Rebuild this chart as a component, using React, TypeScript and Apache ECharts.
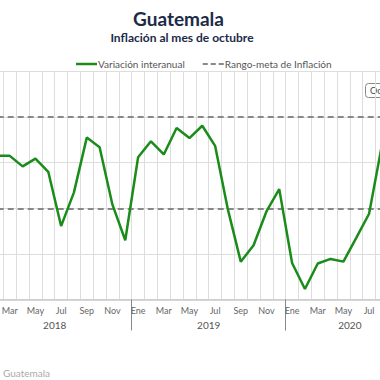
import React, { useEffect, useRef } from "react";
import * as echarts from "echarts";

const monthNames = ["Ene", "Feb", "Mar", "Abr", "May", "Jun", "Jul", "Ago", "Sep", "Oct", "Nov", "Dic"];
const years = ["2018", "2019", "2020"];
const categories: string[] = [];
for (let y = 0; y < 3; y++) {
  for (let m = 0; m < 12; m++) {
    if (y === 2 && m > 9) break;
    categories.push(monthNames[m] + " " + years[y]);
  }
}

const inflation2018 = [4.7, 4.15, 4.15, 3.92, 4.09, 3.8, 2.61, 3.35, 4.55, 4.34, 3.08, 2.3];
const inflation2019 = [4.12, 4.47, 4.18, 4.76, 4.54, 4.81, 4.37, 2.97, 1.83, 2.19, 2.93, 3.42];
const inflation2020 = [1.8, 1.23, 1.79, 1.89, 1.83, 2.35, 2.88, 4.39, 4.6, 5.1];
const inflation = [...inflation2018, ...inflation2019, ...inflation2020];

const targetUpper = 5;
const targetLower = 3;

// year label positions, in months from Jan 2018 (middle of each year's span)
const yearCenters: Record<number, string> = { 6: "2018", 18: "2019", 29: "2020" };

const FONT = "Lato, 'Noto Sans', sans-serif";
const SHIFT = 40; // the chart is wider than the visible window
const WIDTH = 470;

export default function App() {
  const ref = useRef<HTMLDivElement>(null);
  useEffect(() => {
    if (!ref.current) return;
    const chart = echarts.init(ref.current, undefined, { renderer: "svg" });
    chart.setOption({
      animation: false,
      backgroundColor: "#ffffff",
      textStyle: { fontFamily: FONT },
      legend: {
        left: 71 + SHIFT,
        top: 54,
        itemWidth: 21,
        itemHeight: 10,
        itemGap: 18,
        textStyle: { fontSize: 10, color: "#555", fontFamily: FONT, padding: [0, 0, 0, -4] },
        data: [
          { name: "Variación interanual", icon: "path://M0,0h21v2.5H0z" },
          {
            name: "Rango-meta de Inflación",
            icon: "path://M0,0h5v2H0z M8,0h5v2H8z M16,0h5v2h-5z",
          },
        ],
      },
      grid: { left: -22.3 + SHIFT, right: WIDTH - (414 + SHIFT), top: 71.5, bottom: 80.5, containLabel: false },
      xAxis: [
        {
          type: "category",
          data: categories,
          boundaryGap: true,
          axisLine: { show: true, lineStyle: { color: "#c8c8c8", width: 1.5 } },
          axisTick: {
            show: true,
            interval: (idx: number) => idx % 12 === 0,
            length: 31,
            lineStyle: { color: "#888", width: 1 },
          },
          axisLabel: {
            interval: (idx: number) => idx % 2 === 0,
            formatter: (v: string) => v.split(" ")[0],
            fontSize: 9,
            color: "#666",
            margin: 6,
            fontFamily: FONT,
          },
          splitLine: { show: true, interval: 0, lineStyle: { color: "#dddddd", width: 1 } },
        },
        {
          type: "value",
          min: 0,
          max: categories.length,
          interval: 1,
          position: "bottom",
          axisLine: { show: false },
          axisTick: { show: false },
          splitLine: { show: false },
          axisLabel: {
            formatter: (v: number) => yearCenters[v] || "",
            fontSize: 10,
            color: "#555",
            margin: 20,
            fontFamily: FONT,
          },
        },
      ],
      yAxis: {
        type: "value",
        min: 1,
        max: 6,
        interval: 1,
        axisLine: { show: false },
        axisTick: { show: false },
        axisLabel: { show: false },
        splitLine: { show: true, lineStyle: { color: "#dddddd", width: 1 } },
      },
      series: [
        {
          name: "Variación interanual",
          type: "line",
          xAxisIndex: 0,
          data: inflation,
          symbol: "none",
          color: "#1a8c1a",
          lineStyle: { color: "#1a8c1a", width: 2.5 },
          z: 5,
        },
        {
          name: "Rango-meta de Inflación",
          type: "line",
          xAxisIndex: 0,
          data: [],
          symbol: "none",
          color: "#888",
          lineStyle: { color: "#888", width: 2, type: [6, 4] },
          markLine: {
            silent: true,
            symbol: "none",
            label: { show: false },
            lineStyle: { color: "#888", width: 2, type: [6, 4] },
            data: [{ yAxis: targetUpper }, { yAxis: targetLower }],
          },
        },
      ],
      graphic: [
        {
          type: "text",
          x: 178.5 + SHIFT,
          y: 18,
          style: {
            text: "Guatemala",
            align: "center",
            verticalAlign: "middle",
            fontSize: 19,
            fontWeight: "bold",
            fill: "#1b2a47",
            fontFamily: FONT,
          },
        },
        {
          type: "text",
          x: 182 + SHIFT,
          y: 37,
          style: {
            text: "Inflación al mes de octubre",
            align: "center",
            verticalAlign: "middle",
            fontSize: 12,
            fontWeight: "bold",
            fill: "#1b2a47",
            fontFamily: FONT,
          },
        },
        {
          type: "group",
          z: 100,
          children: [
            {
              type: "rect",
              shape: { x: 365.5 + SHIFT, y: 83.5, width: 40, height: 14, r: 3 },
              style: { fill: "#ffffff", stroke: "#888", lineWidth: 1 },
            },
            {
              type: "text",
              x: 370 + SHIFT,
              y: 90.5,
              style: {
                text: "Octubre",
                verticalAlign: "middle",
                fontSize: 9,
                fill: "#444",
                fontFamily: FONT,
              },
            },
          ],
        },
        {
          type: "text",
          x: 3 + SHIFT,
          y: 373,
          style: {
            text: "Guatemala",
            verticalAlign: "middle",
            fontSize: 10,
            fill: "#aaaaaa",
            fontFamily: FONT,
          },
        },
      ],
    });
    return () => chart.dispose();
  }, []);
  return (
    <div style={{ position: "fixed", left: 0, top: 0, width: 380, height: 380, overflow: "hidden", background: "#fff" }}>
      <div ref={ref} style={{ position: "absolute", left: -SHIFT, top: 0, width: WIDTH, height: 380 }} />
    </div>
  );
}
